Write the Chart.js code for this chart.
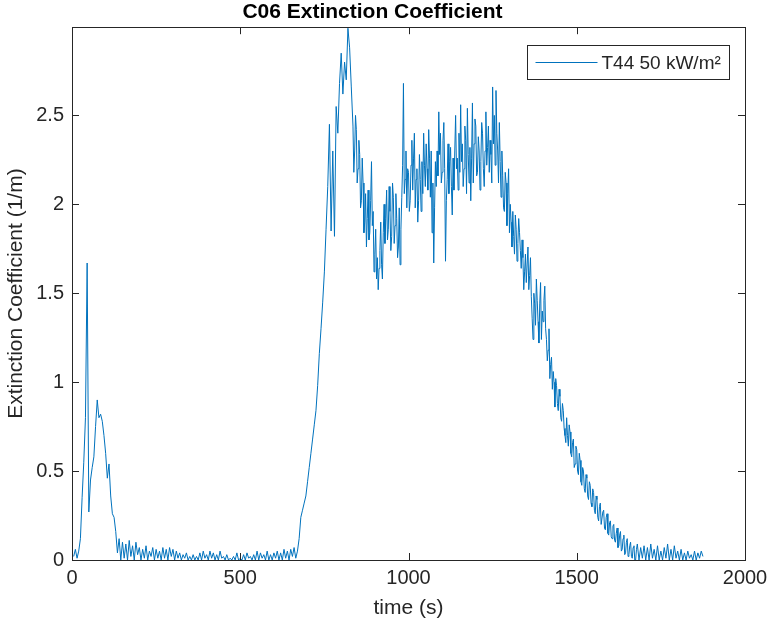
<!DOCTYPE html>
<html>
<head>
<meta charset="utf-8">
<script src="https://cdn.jsdelivr.net/npm/chart.js@4"></script>
<style>
  html, body { margin: 0; padding: 0; background: #fff; }
  #wrap { width: 768px; height: 625px; }
</style>
</head>
<body>
<div id="wrap"><canvas id="c"></canvas></div>
<script>
// ---- data ----
const seriesLabel = 'T44 50 kW/m²';

// t = 5 .. 135 s, every 5 s : ignition spike + first hump
const earlyPeak = [0.02,0.06,0.01,0.05,0.12,0.35,0.55,0.80,1.67,0.27,
  0.45,0.52,0.58,0.75,0.90,0.80,0.82,0.78,0.70,0.60,
  0.46,0.54,0.36,0.26,0.24,0.16,0.04];
// t = 140 .. 670 s, every 5 s : baseline noise
const baseline = [0.12,0.00,0.10,0.01,0.09,0.00,0.11,0.02,0.08,0.00,
  0.10,0.03,0.07,0.00,0.06,0.01,0.08,0.00,0.05,0.02,
  0.07,0.00,0.06,0.01,0.05,0.00,0.07,0.01,0.06,0.00,
  0.07,0.02,0.06,0.00,0.05,0.01,0.04,0.00,0.03,0.01,
  0.04,0.00,0.02,0.00,0.03,0.00,0.02,0.00,0.04,0.00,
  0.05,0.01,0.03,0.00,0.05,0.01,0.04,0.00,0.03,0.00,
  0.05,0.01,0.02,0.00,0.03,0.00,0.01,0.00,0.02,0.00,
  0.04,0.00,0.01,0.00,0.03,0.00,0.04,0.01,0.02,0.00,
  0.03,0.00,0.05,0.00,0.04,0.01,0.03,0.00,0.05,0.00,
  0.03,0.00,0.04,0.01,0.05,0.00,0.04,0.00,0.06,0.01,
  0.05,0.00,0.06,0.02,0.07,0.01,0.05];
// t = 675 .. 830 s, every 5 s : growth to the maximum
const growth = [0.12,0.24,0.28,0.32,0.36,0.44,0.52,0.60,0.68,0.76,
  0.84,0.98,1.16,1.30,1.45,1.62,1.86,2.10,2.45,1.85,
  2.30,1.82,2.55,2.40,2.68,2.85,2.62,2.80,2.70,2.99,
  2.88,2.66];
// t = 835 .. 1350 s, every 2.5 s : plateau
const plateau = [
  2.44,2.18,2.30,2.50,2.42,2.12,2.20,2.36,2.28,1.98,2.02,2.26,2.12,1.84,1.90,2.06,1.76,1.92,2.08,1.80,
  1.84,2.02,2.24,1.88,1.96,1.62,1.72,1.86,1.58,1.70,1.52,1.64,1.74,1.90,1.66,1.58,1.84,2.00,1.78,1.92,
  2.08,1.80,1.86,2.10,1.96,1.74,1.82,2.12,2.04,1.78,1.88,2.06,1.92,1.70,1.76,1.98,1.66,1.86,2.04,2.22,
  2.68,2.06,2.14,2.30,1.98,2.20,2.18,1.96,2.02,2.22,2.36,2.08,2.26,2.40,1.98,2.14,2.20,1.90,2.02,2.28,
  2.14,1.96,2.24,2.06,2.40,2.22,2.10,2.34,2.20,2.08,2.42,2.26,2.04,2.30,1.84,2.12,1.67,1.98,2.24,2.10,
  2.30,2.16,2.52,2.28,2.40,2.12,2.18,2.36,2.46,2.20,1.68,2.02,2.14,2.34,2.06,2.24,2.32,2.10,1.94,2.26,
  2.08,2.30,2.50,2.20,2.26,2.08,2.40,2.18,2.56,2.24,2.34,2.10,2.20,2.44,2.36,2.06,2.54,2.28,2.12,2.32,
  2.02,2.26,2.57,2.12,2.34,2.48,2.44,2.16,2.18,2.38,2.30,2.08,2.24,2.46,2.40,2.20,2.10,2.30,2.52,2.22,
  2.32,2.44,2.18,2.36,2.28,2.12,2.66,2.34,2.50,2.22,2.64,2.40,2.30,2.12,2.46,2.24,2.04,2.30,2.16,1.98,
  1.96,2.18,2.12,1.88,2.06,2.20,1.84,2.00,1.90,1.76,1.96,1.82,1.72,1.94,1.86,1.68,1.78,1.92,1.84,1.74,
  1.64,1.80,1.70,1.52,1.62,1.72,1.56];
// t = 1355 .. 1680 s, every 2.5 s : decay
const decay = [
  1.76,1.52,1.60,1.70,1.48,1.36,1.24,1.50,1.44,1.32,1.58,1.46,1.34,1.22,1.44,1.56,1.24,1.40,1.34,1.46,
  1.54,1.30,1.24,1.12,1.18,1.30,1.02,1.10,1.14,0.96,1.06,1.00,0.86,1.02,0.98,0.88,0.84,0.96,0.92,0.80,
  0.78,0.88,0.84,0.74,0.70,0.66,0.80,0.70,0.64,0.76,0.72,0.60,0.58,0.66,0.68,0.52,0.54,0.64,0.62,0.50,
  0.48,0.60,0.56,0.44,0.42,0.52,0.50,0.40,0.38,0.48,0.46,0.36,0.34,0.44,0.42,0.32,0.30,0.40,0.38,0.28,
  0.26,0.36,0.34,0.24,0.22,0.30,0.32,0.20,0.20,0.27,0.28,0.18,0.17,0.24,0.26,0.15,0.14,0.21,0.22,0.13,
  0.12,0.19,0.20,0.11,0.10,0.15,0.18,0.07,0.08,0.14,0.16,0.05,0.06,0.12,0.14,0.03,0.04,0.10,0.12,0.02,
  0.03,0.08,0.10,0.02,0.01,0.07,0.08,0.00,0.00,0.06,0.09];
// t = 1685 .. 1875 s, every 5 s : tail
const tail = [0.00,0.07,0.01,0.08,0.00,0.07,0.00,0.09,0.01,0.06,
  0.00,0.08,0.00,0.05,0.00,0.07,0.01,0.09,0.00,0.06,
  0.00,0.08,0.01,0.05,0.00,0.06,0.00,0.04,0.00,0.05,
  0.01,0.03,0.00,0.05,0.00,0.04,0.01,0.05,0.02];

// [start time, sample step, values]
const segments = [[5, 5, earlyPeak], [140, 5, baseline], [675, 5, growth],
                  [835, 2.5, plateau], [1355, 2.5, decay], [1685, 5, tail]];

const xTicks = [0, 500, 1000, 1500, 2000];
const yTicks = [0, 0.5, 1, 1.5, 2, 2.5];

const points = [];
segments.forEach(([start, step, vals]) => {
  vals.forEach((v, i) => points.push({ x: start + i * step, y: v }));
});

const axisColor = '#262626';
const lineColor = '#0072BD';
const font = '"Liberation Sans", Arial, Helvetica, sans-serif';

// MATLAB style box, inward ticks and legend
const matlabAxes = {
  id: 'matlabAxes',
  afterDatasetsDraw(chart) {
    const { ctx, chartArea: a, scales: { x, y } } = chart;
    ctx.save();
    ctx.strokeStyle = axisColor;
    ctx.lineWidth = 1;
    ctx.strokeRect(Math.round(a.left) + 0.5, Math.round(a.top) + 0.5,
                   Math.round(a.right - a.left), Math.round(a.bottom - a.top));
    ctx.beginPath();
    x.ticks.forEach(t => {
      const px = Math.round(x.getPixelForValue(t.value)) + 0.5;
      ctx.moveTo(px, a.bottom); ctx.lineTo(px, a.bottom - 7);
      ctx.moveTo(px, a.top);    ctx.lineTo(px, a.top + 7);
    });
    y.ticks.forEach(t => {
      const py = Math.round(y.getPixelForValue(t.value)) + 0.5;
      ctx.moveTo(a.left, py);  ctx.lineTo(a.left + 7, py);
      ctx.moveTo(a.right, py); ctx.lineTo(a.right - 7, py);
    });
    ctx.stroke();

    // legend
    const bw = 202, bh = 34;
    const bx = Math.round(a.right) - 16 - bw + 0.5;
    const by = Math.round(a.top) + 18 + 0.5;
    ctx.fillStyle = '#fff';
    ctx.fillRect(bx, by, bw, bh);
    ctx.strokeRect(bx, by, bw, bh);
    ctx.strokeStyle = lineColor;
    ctx.beginPath();
    ctx.moveTo(bx + 8, by + bh / 2); ctx.lineTo(bx + 70, by + bh / 2);
    ctx.stroke();
    ctx.fillStyle = axisColor;
    ctx.font = '19px ' + font;
    ctx.textBaseline = 'middle';
    ctx.fillText(chart.data.datasets[0].label, bx + 74, by + bh / 2 + 1);
    ctx.restore();
  }
};

new Chart(document.getElementById('c'), {
  type: 'line',
  data: {
    datasets: [{
      label: seriesLabel,
      data: points,
      borderColor: lineColor,
      borderWidth: 1,
      pointRadius: 0,
      tension: 0,
      fill: false
    }]
  },
  options: {
    responsive: true,
    maintainAspectRatio: false,
    animation: false,
    devicePixelRatio: 1,
    layout: { padding: { left: 0, right: 23, top: 0, bottom: 0 } },
    plugins: {
      legend: { display: false },
      tooltip: { enabled: false },
      title: {
        display: true,
        text: 'C06 Extinction Coefficient',
        color: '#000',
        font: { family: font, size: 21, weight: 'bold' },
        padding: { top: 0, bottom: 2 }
      }
    },
    scales: {
      x: {
        type: 'linear',
        min: 0, max: 2000,
        afterBuildTicks: s => { s.ticks = xTicks.map(v => ({ value: v })); },
        afterFit: s => { s.height = 65; s.paddingLeft = 0; s.paddingRight = 0; },
        grid: { display: false, drawTicks: false },
        border: { display: false },
        ticks: { color: axisColor, font: { family: font, size: 20 }, padding: 6, maxRotation: 0,
                 callback: v => String(v) },
        title: { display: true, text: 'time (s)', color: axisColor,
                 font: { family: font, size: 21 }, padding: { top: 0, bottom: 4 } }
      },
      y: {
        type: 'linear',
        min: 0, max: 2.996,
        afterBuildTicks: s => { s.ticks = yTicks.map(v => ({ value: v })); },
        afterFit: s => { s.width = 72; s.paddingTop = 0; s.paddingBottom = 0; },
        grid: { display: false, drawTicks: false },
        border: { display: false },
        ticks: { color: axisColor, font: { family: font, size: 20 }, padding: 8,
                 callback: v => String(v) },
        title: { display: true, text: 'Extinction Coefficient (1/m)', color: axisColor,
                 font: { family: font, size: 21 }, padding: { top: 4, bottom: 0 } }
      }
    }
  },
  plugins: [matlabAxes]
});
</script>
</body>
</html>
